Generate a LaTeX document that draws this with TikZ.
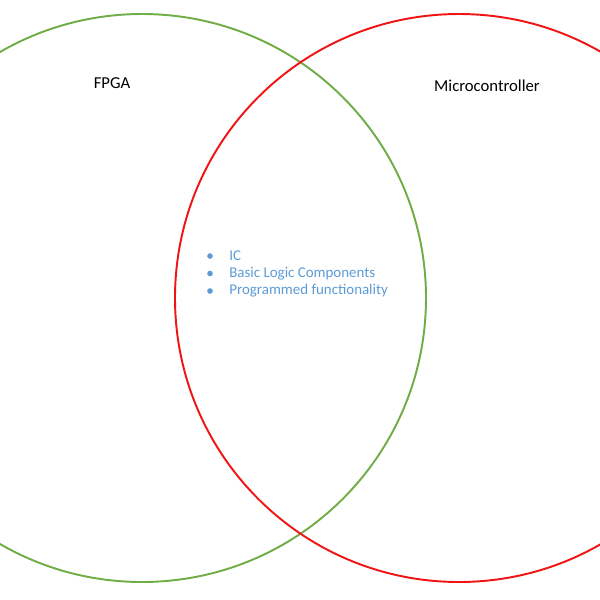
\documentclass[tikz,border=0pt]{standalone}
\usepackage{fontspec}
\setmainfont{Carlito}
\usetikzlibrary{positioning}
\definecolor{fpgaColor}{RGB}{112,173,71}
\definecolor{mcuColor}{RGB}{240,20,20}
\definecolor{itemColor}{RGB}{91,155,213}
\tikzset{
	set/.style={line width=1.1pt},
	lab/.style={font=\fontsize{9.5}{11}\selectfont, inner sep=0},
	item/.style={font=\fontsize{8.5}{10}\selectfont, text=itemColor, inner sep=0, anchor=west}
}
\begin{document}
\begin{tikzpicture}[x=0.02cm,y=-0.02cm]
	\useasboundingbox (0,0) rectangle (600,600);
	\node[draw=fpgaColor, set, circle, minimum size=568*0.02cm] (fpga) at (142,298) {};
	\node[draw=mcuColor, set, circle, minimum size=568*0.02cm] (mcu) at (459,298) {};
	\node[lab] (fpgaLab) at (112,83) {FPGA};
	\node[lab] (mcuLab) at (487,86) {Microcontroller};
	\node[item] (i1) at (229,256) {IC};
	\node[item] (i2) at (229,273.5) {Basic Logic Components};
	\node[item] (i3) at (229,291) {Programmed functionality};
	\foreach \i in {i1,i2,i3}
		\fill[itemColor] ([xshift=-19*0.02cm]\i.west) circle (1.6pt);
\end{tikzpicture}
\end{document}
